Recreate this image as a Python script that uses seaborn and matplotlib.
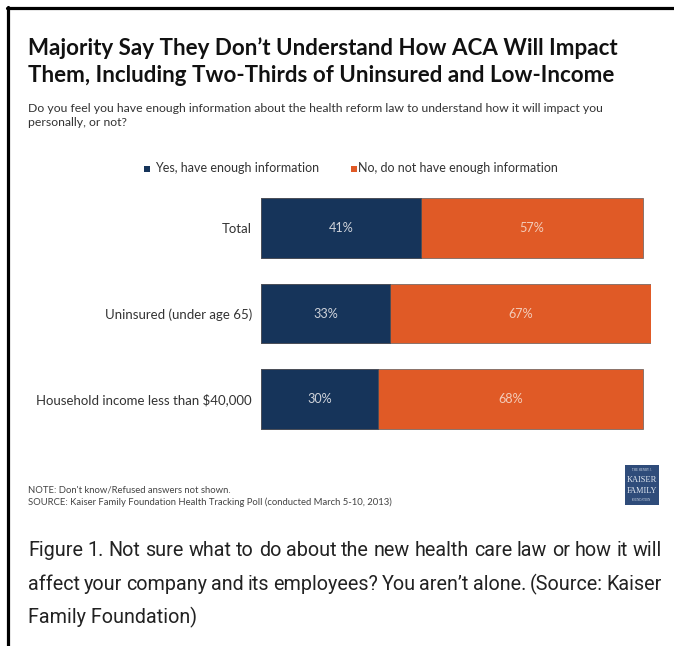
import matplotlib
matplotlib.use('Agg')
import matplotlib.pyplot as plt
import seaborn as sns
import pandas as pd
from matplotlib.patches import Rectangle
from matplotlib.lines import Line2D

# ---- data ----
categories = ["Total", "Uninsured (under age 65)", "Household income less than $40,000"]
yes_values = [41, 33, 30]
no_values = [57, 67, 68]
series_names = ["Yes, have enough information", "No, do not have enough information"]

title_lines = ["Majority Say They Don\u2019t Understand How ACA Will Impact",
               "Them, Including Two-Thirds of Uninsured and Low-Income"]
subtitle_lines = ["Do you feel you have enough information about the health reform law to understand how it will impact you",
                  "personally, or not?"]
note_lines = ["NOTE: Don't know/Refused answers not shown.",
              "SOURCE: Kaiser Family Foundation Health Tracking Poll (conducted March 5-10, 2013)"]
caption_lines = ["Figure 1. Not sure what to do about the new health care law or how it will",
                 "affect your company and its employees? You aren\u2019t alone. (Source: Kaiser",
                 "Family Foundation)"]

NAVY = '#16345a'
ORANGE = '#e05a26'

W, H = 674, 646
sns.set_theme(style='white')
plt.rcParams['font.family'] = ['Lato', 'DejaVu Sans']

fig = plt.figure(figsize=(W / 100, H / 100), dpi=100)
fig.patch.set_facecolor('white')
renderer = fig.canvas.get_renderer()


def fx(px):
    return px / W


def fy(py):
    return 1 - py / H


def fit(t, width_px):
    w = t.get_window_extent(renderer).width
    t.set_fontsize(t.get_fontsize() * width_px / w)
    return t.get_fontsize()


# ---- bars ----
ax = fig.add_axes([fx(261), fy(442), fx(651) - fx(261), fy(185) - fy(442)])
df = pd.DataFrame({'cat': categories, 'yes': yes_values, 'no': no_values})
df['total'] = df['yes'] + df['no']
sns.barplot(data=df, y='cat', x='total', orient='h', color=ORANGE, saturation=1,
            width=0.7, edgecolor='#7a6a64', linewidth=0.6, ax=ax)
sns.barplot(data=df, y='cat', x='yes', orient='h', color=NAVY, saturation=1,
            width=0.7, edgecolor='#4a4f58', linewidth=0.6, ax=ax)
ax.set_xlim(0, 100)
ax.set_ylim(2.5, -0.5)
ax.set_xlabel('')
ax.set_ylabel('')
ax.set_xticks([])
for s in ax.spines.values():
    s.set_visible(False)
ax.tick_params(axis='y', length=0, pad=6.5, labelcolor='#333333')
ax.set_facecolor('none')

# category label size fit
labels = ax.get_yticklabels()
for lab in labels:
    lab.set_fontsize(8)
fig.canvas.draw()
lw = max(l.get_window_extent(renderer).width for l in ax.get_yticklabels())
cat_size = 8 * 218 / lw
ax.tick_params(axis='y', labelsize=cat_size)

for i, (y, n) in enumerate(zip(yes_values, no_values)):
    ax.text(y / 2, i, f"{y}%", ha='center', va='center', color='#cfd3da', fontsize=cat_size * 0.95)
    ax.text(y + n / 2, i, f"{n}%", ha='center', va='center', color='#f3cbb8', fontsize=cat_size * 0.95)

# ---- title / subtitle ----
t1 = fig.text(fx(28), fy(48), title_lines[0], fontsize=15, fontweight='bold', color='#111111', va='center')
ts = fit(t1, 592)
fig.text(fx(28), fy(76), title_lines[1], fontsize=ts, fontweight='bold', color='#111111', va='center')

s1 = fig.text(fx(28), fy(109), subtitle_lines[0], fontsize=8, color='#333333', va='center')
ss = fit(s1, 584)
fig.text(fx(28), fy(122), subtitle_lines[1], fontsize=ss, color='#333333', va='center')

# ---- legend ----
lg1 = fig.text(fx(155), fy(168), series_names[0], fontsize=8, color='#333333', va='center')
lgs = fit(lg1, 165)
fig.text(fx(358), fy(168), series_names[1], fontsize=lgs, color='#333333', va='center')
fig.patches.append(Rectangle((fx(144), fy(172)), fx(6), fx(6) * W / H, transform=fig.transFigure,
                             facecolor=NAVY, edgecolor='none'))
fig.patches.append(Rectangle((fx(351), fy(172)), fx(6), fx(6) * W / H, transform=fig.transFigure,
                             facecolor=ORANGE, edgecolor='none'))

# ---- notes ----
n2 = fig.text(fx(28), fy(502), note_lines[1], fontsize=5, color='#444444', va='center')
ns = fit(n2, 367)
fig.text(fx(28), fy(490), note_lines[0], fontsize=ns, color='#444444', va='center')

# ---- logo ----
fig.patches.append(Rectangle((fx(625), fy(505)), fx(34), fy(465) - fy(505), transform=fig.transFigure,
                             facecolor='#2f4c7a', edgecolor='none'))
for txt, yy, sz in [("THE HENRY J.", 470, 2.2), ("KAISER", 480, 6.0), ("FAMILY", 491, 6.0), ("FOUNDATION", 500, 2.2)]:
    fig.text(fx(642), fy(yy), txt, fontsize=sz, color='#dfe6f0', ha='center', va='center',
             family=['Liberation Serif', 'DejaVu Serif'])

# ---- caption (justified) ----
cap_family = ['Liberation Sans Narrow', 'Roboto', 'DejaVu Sans']
c1 = fig.text(fx(28), fy(551), caption_lines[0], fontsize=13, color='#222222', va='center', family=cap_family)
cs = fit(c1, 634)
c1.remove()


def justified(line, y, x0, x1, size):
    words = line.split(' ')
    texts = [fig.text(0, fy(y), w, fontsize=size, color='#222222', va='center', family=cap_family) for w in words]
    widths = [t.get_window_extent(renderer).width for t in texts]
    gap = (x1 - x0 - sum(widths)) / (len(words) - 1)
    x = x0
    for t, w in zip(texts, widths):
        t.set_x(fx(x))
        x += w + gap


justified(caption_lines[0], 551, 28, 662, cs)
justified(caption_lines[1], 584, 28, 662, cs)
fig.text(fx(28), fy(617), caption_lines[2], fontsize=cs, color='#222222', va='center', family=cap_family)

# ---- frame lines ----
fig.lines.append(Line2D([fx(7), 1], [fy(8), fy(8)], transform=fig.transFigure, color='black', linewidth=2.3))
fig.lines.append(Line2D([fx(8), fx(8)], [fy(7), 0], transform=fig.transFigure, color='black', linewidth=2.3))

fig.savefig('out.png', dpi=100, facecolor='white')
